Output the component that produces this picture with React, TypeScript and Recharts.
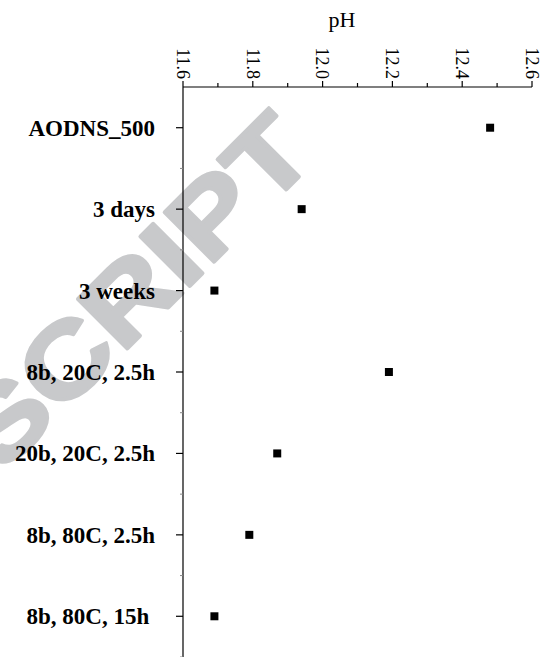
import { ScatterChart, Scatter, XAxis, YAxis, ZAxis } from 'recharts';

const categories = [
  'AODNS_500',
  '3 days',
  '3 weeks',
  '8b, 20C, 2.5h',
  '20b, 20C, 2.5h',
  '8b, 80C, 2.5h',
  '8b, 80C, 15h ',
];
const phValues = [12.48, 11.94, 11.69, 12.19, 11.87, 11.79, 11.69];
const xTicks = [11.6, 11.7, 11.8, 11.9, 12.0, 12.1, 12.2, 12.3, 12.4, 12.5, 12.6];
const xLabels = ['11.6', '11.8', '12.0', '12.2', '12.4', '12.6'];

const data = categories.map((name, i) => ({ name, ph: phValues[i] }));

const W = 544;
const H = 657;
const TOP = 87;
const BAND = (H - TOP) / categories.length;

// top axis: long ticks with rotated labels on every 0.2, short ticks between
const PhTick = (props: any) => {
  const { x, y, payload } = props;
  const label = xLabels.find((l) => Math.abs(parseFloat(l) - payload.value) < 1e-6);
  return (
    <g>
      <line x1={x} x2={x} y1={y} y2={y - (label ? 6 : 4)} stroke="#000" strokeWidth={1.2} />
      {label && (
        <text
          x={x}
          y={y - 8}
          dy="0.35em"
          textAnchor="end"
          transform={`rotate(90 ${x} ${y - 8})`}
          fontFamily="'Liberation Serif', serif"
          fontSize={18}
          fill="#000"
        >
          {label}
        </text>
      )}
    </g>
  );
};

const CatTick = (props: any) => {
  const { x, y, payload } = props;
  return (
    <g>
      <line x1={x - 7} x2={x} y1={y} y2={y} stroke="#000" strokeWidth={1.2} />
      <line x1={x - 3} x2={x} y1={y + BAND / 2} y2={y + BAND / 2} stroke="#888" strokeWidth={1} />
      <text
        x={x - 28}
        y={y}
        dy="0.35em"
        textAnchor="end"
        fontFamily="'Liberation Serif', serif"
        fontWeight="bold"
        fontSize={23}
        style={{ whiteSpace: 'pre' }}
        fill="#000"
      >
        {payload.value}
      </text>
    </g>
  );
};

export default function App() {
  return (
    <div style={{ position: 'absolute', left: 0, top: 0, width: W, height: H, background: '#fff' }}>
      {/* watermark behind the chart */}
      <svg width={W} height={H} style={{ position: 'absolute', left: 0, top: 0 }}>
        <text
          x={0}
          y={0}
          textAnchor="end"
          transform="translate(319 157) rotate(-45) scale(1.2 1)"
          fontFamily="'Liberation Sans', Arial, sans-serif"
          fontWeight="bold"
          fontSize={102}
          fill="#c8c9cb"
          stroke="#c8c9cb"
          strokeWidth={3.5}
          strokeLinejoin="round"
        >
          ACCEPTED MANUSCRIPT
        </text>
      </svg>
      <div style={{ position: 'absolute', left: 0, top: 0 }}>
        <ScatterChart width={W} height={H} margin={{ top: TOP - 1, right: 12, bottom: 0, left: 0 }}>
          <XAxis
            type="number"
            dataKey="ph"
            orientation="top"
            domain={[11.6, 12.6]}
            ticks={xTicks}
            interval={0}
            height={1}
            tickSize={0}
            tickMargin={0}
            tickLine={false}
            axisLine={{ stroke: '#000', strokeWidth: 1.2 }}
            tick={<PhTick />}
            allowDataOverflow
          />
          <YAxis
            type="category"
            dataKey="name"
            reversed
            width={183}
            interval={0}
            tickSize={0}
            tickMargin={0}
            tickLine={false}
            axisLine={{ stroke: '#000', strokeWidth: 1.2 }}
            tick={<CatTick />}
          />
          <ZAxis range={[64, 64]} />
          <Scatter data={data} fill="#000" shape="square" isAnimationActive={false} />
        </ScatterChart>
      </div>
      <div
        style={{
          position: 'absolute',
          left: 342,
          top: 7,
          transform: 'translateX(-50%)',
          fontFamily: "'Liberation Serif', serif",
          fontSize: 22,
          color: '#000',
          lineHeight: '26px',
        }}
      >
        pH
      </div>
    </div>
  );
}
